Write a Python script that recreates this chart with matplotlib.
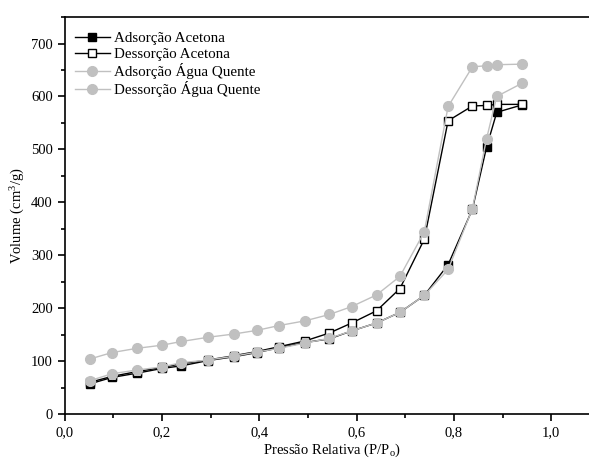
import numpy as np
import matplotlib
matplotlib.use('Agg')
import matplotlib.pyplot as plt
from matplotlib.ticker import MultipleLocator, FuncFormatter

plt.rcParams['font.family'] = ['Liberation Serif', 'DejaVu Serif']
plt.rcParams['mathtext.fontset'] = 'custom'
plt.rcParams['mathtext.rm'] = 'Liberation Serif'
plt.rcParams['mathtext.it'] = 'Liberation Serif:italic'

# pressao relativa (P/Po)
p_rel = [0.052, 0.097, 0.148, 0.2, 0.24, 0.295, 0.347, 0.395, 0.44, 0.494,
         0.544, 0.59, 0.641, 0.689, 0.739, 0.788, 0.838, 0.867, 0.888, 0.94]

ads_acetona = [57, 69, 77, 86, 91, 101, 108, 116, 125, 135,
               142, 157, 172, 192, 224, 282, 387, 504, 570, 584]
des_acetona = [60, 71, 80, 88, 95, 102, 110, 118, 127, 138,
               153, 172, 195, 237, 330, 554, 582, 583, 585, 585]
ads_agua = [63, 76, 83, 89, 97, 102, 109, 117, 124, 134,
            143, 157, 172, 192, 224, 273, 388, 520, 600, 625]
des_agua = [104, 116, 124, 130, 137, 145, 151, 158, 167, 176,
            188, 203, 225, 260, 344, 581, 656, 658, 660, 661]

labels = ['Adsorção Acetona', 'Dessorção Acetona',
          'Adsorção Água Quente', 'Dessorção Água Quente']

fig = plt.figure(figsize=(5.89, 4.61), dpi=100)
ax = fig.add_axes([0.1099, 0.102, 0.9086, 0.861])

cinza = '#c0c0c0'
ax.plot(p_rel, ads_acetona, '-s', color='black', lw=1, ms=5.5,
        mfc='black', mec='black', label=labels[0], zorder=3)
ax.plot(p_rel, des_acetona, '-s', color='black', lw=1, ms=5.5,
        mfc='white', mec='black', mew=1, label=labels[1], zorder=3)
ax.plot(p_rel, ads_agua, '-o', color=cinza, lw=1, ms=7,
        mfc=cinza, mec=cinza, label=labels[2], zorder=4)
ax.plot(p_rel, des_agua, '-o', color=cinza, lw=1, ms=7,
        mfc=cinza, mec=cinza, label=labels[3], zorder=4)

ax.set_xlim(0, 1.1)
ax.set_ylim(0, 750)
ax.xaxis.set_major_locator(MultipleLocator(0.2))
ax.xaxis.set_minor_locator(MultipleLocator(0.1))
ax.yaxis.set_major_locator(MultipleLocator(100))
ax.yaxis.set_minor_locator(MultipleLocator(50))
ax.xaxis.set_major_formatter(FuncFormatter(lambda v, pos: ('%.1f' % v).replace('.', ',')))
ax.tick_params(which='both', direction='out', top=False, right=False,
               labelsize=10.5, width=1.2)
ax.tick_params(which='major', length=5)
ax.tick_params(which='minor', length=3)
for s in ax.spines.values():
    s.set_linewidth(1.2)

ax.set_xlabel('Pressão Relativa (P/P$_{\\mathrm{o}}$)', fontsize=10.5, labelpad=2)
ax.set_ylabel('Volume (cm$^{3}$/g)', fontsize=10.5, labelpad=3)

ax.legend(loc='upper left', frameon=False, fontsize=10.8, handlelength=2.3,
          handletextpad=0.3, labelspacing=0.15, borderaxespad=0.3,
          bbox_to_anchor=(0.0, 0.99))

fig.savefig('out.png', dpi=100)
